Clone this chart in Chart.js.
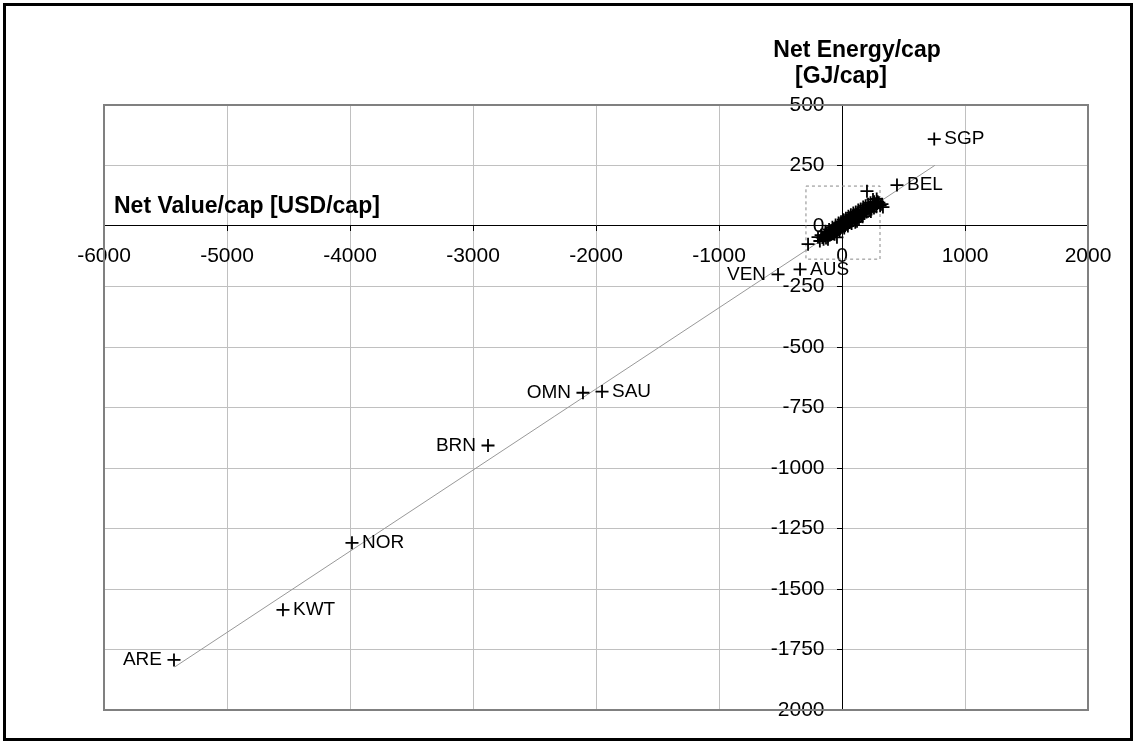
<!DOCTYPE html>
<html>
<head>
<meta charset="utf-8">
<script src="https://cdn.jsdelivr.net/npm/chart.js@4.4.1/dist/chart.umd.min.js"></script>
<style>
body { margin: 0; background: #fff; }
canvas { display: block; }
</style>
</head>
<body>
<canvas id="chart" width="1136" height="744"></canvas>
<script>
// axis ticks
const xTickValues = [-6000, -5000, -4000, -3000, -2000, -1000, 0, 1000, 2000];
const yTickValues = [-2000, -1750, -1500, -1250, -1000, -750, -500, -250, 0, 250, 500];

// named countries
const countryNames = ['SGP', 'BEL', 'AUS', 'VEN', 'SAU', 'OMN', 'BRN', 'NOR', 'KWT', 'ARE'];
const countryValue = [750, 447, -341, -520, -1951, -2106, -2878, -3984, -4545, -5431];
const countryEnergy = [359, 169, -179, -200, -684, -689, -907, -1309, -1586, -1793];
const labelSide = ['right', 'right', 'right', 'left', 'right', 'left', 'left', 'right', 'right', 'left'];

// the rest of the countries, clustered round the origin
const clusterValue = [-276, -195, -180, -160, -150, -140, -130, -125, -115, -110, -100, -95, -90, -85, -80,
    -75, -70, -65, -60, -55, -50, -45, -40, -35, -30, -25, -20, -15, -10, -5, 0, 5, 10, 15, 20, 25, 30, 35,
    40, 45, 50, 55, 60, 65, 70, 80, 85, 90, 100, 105, 110, 120, 125, 130, 140, 150, 160, 170, 180, 190, 200,
    210, 220, 230, 240, 250, 260, 270, 280, 290, 300, 310, 325, 333, 203, 252, -114, -41, 122,
    -170, -135, -105, -78, -52, -28, -8, 12, 32, 52, 72, 92, 112, 132, 152, 172, 192, 212, 232, 262, 282,
    18, 48, 78, 108, 138, 168, -60, -20, 235];
const clusterEnergy = [-75, -46, -62, -48, -55, -40, -50, -35, -42, -28, -38, -25, -35, -20, -30,
    -18, -28, -12, -24, -10, -20, -6, -18, -4, -14, 2, -10, 4, -6, 8, -4, 10, 0, 14, 2, 16, 6, 20,
    8, 22, 12, 26, 14, 30, 18, 34, 22, 38, 26, 42, 30, 48, 34, 50, 40, 56, 46, 62, 52, 66, 58,
    72, 64, 78, 70, 86, 74, 92, 80, 100, 96, 84, 90, 78, 144, 110, -55, -47, 20,
    -38, -22, -14, -5, 4, 12, 18, 26, 32, 40, 46, 54, 58, 66, 70, 78, 84, 90, 96, 100, 112,
    -8, 0, 10, 16, 30, 38, -34, -22, 60];

// regression line end points and the dashed zoom box
const trendValue = [-5425, 756];
const trendEnergy = [-1822, 251];
const boxValue = [-293, 309, 309, -293, -293];
const boxEnergy = [165, 165, -137, -137, 165];

const FONT = '"Liberation Sans", Arial, sans-serif';

function toPoints(xs, ys) {
    return xs.map((x, i) => ({ x: x, y: ys[i] }));
}

const frame = {
    id: 'frame',
    beforeDraw(chart) {
        const ctx = chart.ctx;
        ctx.save();
        ctx.fillStyle = '#fff';
        ctx.fillRect(0, 0, chart.width, chart.height);
        ctx.restore();
    },
    beforeDatasetsDraw(chart) {
        const a = chart.chartArea;
        const ctx = chart.ctx;
        ctx.save();
        ctx.strokeStyle = '#808080';
        ctx.lineWidth = 2;
        ctx.strokeRect(a.left, a.top, a.right - a.left, a.bottom - a.top);
        ctx.restore();
    },
    afterDraw(chart) {
        const ctx = chart.ctx;
        ctx.save();
        ctx.strokeStyle = '#000';
        ctx.lineWidth = 3;
        ctx.strokeRect(4.5, 4.5, 1127, 735);

        // axis titles
        ctx.fillStyle = '#000';
        ctx.font = 'bold 23px ' + FONT;
        ctx.textBaseline = 'alphabetic';
        ctx.textAlign = 'left';
        ctx.fillText('Net Value/cap [USD/cap]', 114, 213);
        ctx.textAlign = 'center';
        ctx.fillText('Net Energy/cap', 857, 57);
        ctx.fillText('[GJ/cap]', 841, 83);
        ctx.restore();
    },
    afterDatasetsDraw(chart) {
        const meta = chart.getDatasetMeta(0);
        const ctx = chart.ctx;
        ctx.save();
        ctx.fillStyle = '#000';
        ctx.font = '19px ' + FONT;
        ctx.textBaseline = 'middle';
        meta.data.forEach((pt, i) => {
            if (labelSide[i] === 'left') {
                ctx.textAlign = 'right';
                ctx.fillText(countryNames[i], pt.x - 12, pt.y);
            } else {
                ctx.textAlign = 'left';
                ctx.fillText(countryNames[i], pt.x + 10, pt.y);
            }
        });
        ctx.restore();
    }
};

const markerStyle = {
    pointStyle: 'cross',
    pointRadius: 6.5,
    pointBorderColor: '#000',
    pointBorderWidth: 1.8,
    showLine: false
};

new Chart(document.getElementById('chart'), {
    type: 'scatter',
    data: {
        datasets: [
            Object.assign({ data: toPoints(countryValue, countryEnergy) }, markerStyle),
            Object.assign({ data: toPoints(clusterValue, clusterEnergy) }, markerStyle),
            {
                data: toPoints(trendValue, trendEnergy),
                showLine: true,
                borderColor: '#999',
                borderWidth: 1,
                pointRadius: 0
            },
            {
                data: toPoints(boxValue, boxEnergy),
                showLine: true,
                borderColor: '#888',
                borderWidth: 1,
                borderDash: [3, 3],
                pointRadius: 0
            }
        ]
    },
    options: {
        responsive: false,
        animation: false,
        events: [],
        layout: { padding: { left: 104, right: 48, top: 105, bottom: 34 } },
        plugins: { legend: { display: false }, tooltip: { enabled: false } },
        scales: {
            x: {
                type: 'linear',
                position: { y: 0 },
                min: xTickValues[0],
                max: xTickValues[xTickValues.length - 1],
                grid: { color: '#c0c0c0', lineWidth: 1, tickColor: '#000', tickLength: 5 },
                border: { color: '#000', width: 1 },
                ticks: {
                    stepSize: xTickValues[1] - xTickValues[0],
                    color: '#000',
                    padding: 13,
                    font: { family: FONT, size: 21 },
                    callback: v => String(v)
                }
            },
            y: {
                type: 'linear',
                position: { x: 0 },
                min: yTickValues[0],
                max: yTickValues[yTickValues.length - 1],
                grid: { color: '#c0c0c0', lineWidth: 1, tickColor: '#000', tickLength: 5 },
                border: { color: '#000', width: 1 },
                ticks: {
                    stepSize: yTickValues[1] - yTickValues[0],
                    color: '#000',
                    font: { family: FONT, size: 21 },
                    callback: v => String(v) + '   '
                }
            }
        }
    },
    plugins: [frame]
});
</script>
</body>
</html>
